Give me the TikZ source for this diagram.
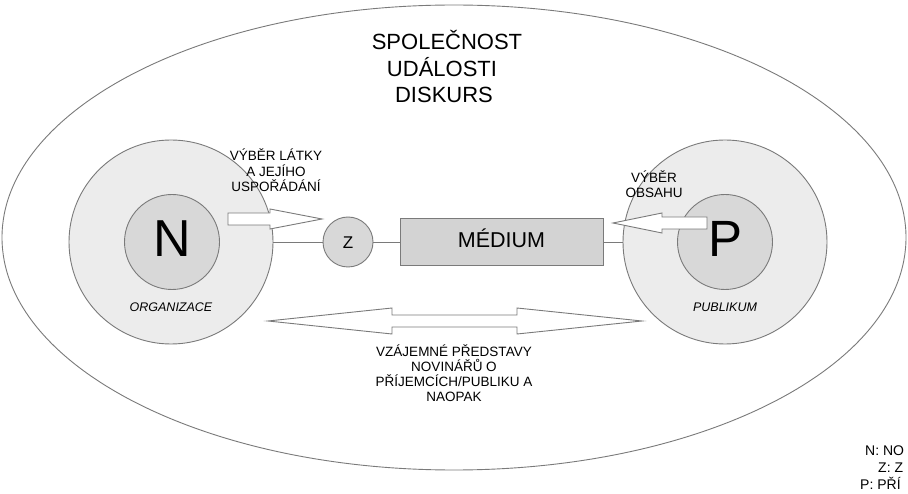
\documentclass[tikz,border=0pt]{standalone}
\usepackage{fontspec}
\setmainfont{Liberation Sans}
\definecolor{edgegray}{HTML}{7A7A7A}
\definecolor{outerfill}{HTML}{ECECEC}
\definecolor{innerfill}{HTML}{D8D8D8}
\definecolor{boxfill}{HTML}{D3D3D3}
\begin{document}
\begin{tikzpicture}[x=1pt,y=-1pt,
  thinline/.style={draw=edgegray,line width=0.9pt},
  outercirc/.style={circle,thinline,fill=outerfill,minimum size=204pt,inner sep=0pt},
  innercirc/.style={circle,thinline,fill=innerfill,minimum size=95pt,inner sep=0pt},
  zcirc/.style={circle,thinline,fill=innerfill,minimum size=50pt,inner sep=0pt},
  mediabox/.style={rectangle,thinline,fill=boxfill,minimum width=203pt,minimum height=47pt,inner sep=0pt},
  blockarrow/.style={draw=edgegray,line width=0.9pt,fill=white,line join=miter},
  lbl/.style={anchor=base,inner sep=0pt,font=\fontsize{13.5}{15}\selectfont},
  biglbl/.style={anchor=base,inner sep=0pt,font=\fontsize{22}{26}\selectfont},
  leg/.style={anchor=base west,inner sep=0pt,font=\fontsize{14}{16}\selectfont}]
\useasboundingbox (0,0) rectangle (908,494);
\clip (0,0) rectangle (908,494);
\fill[white] (0,0) rectangle (908,494);
% society ellipse
\draw[thinline] (454,237.5) ellipse [x radius=452pt, y radius=232.5pt];
% title
\node[biglbl] (t1) at (447,50) {SPOLEČNOST};
\node[biglbl] (t2) at (442,77) {UDÁLOSTI};
\node[biglbl] (t3) at (444,103) {DISKURS};
% left: organization
\node[outercirc] (No) at (171,242) {};
\node[innercirc] (Ni) at (172,242) {};
\node[anchor=base,inner sep=0pt,font=\fontsize{52}{56}\selectfont] (Nt) at (172,257) {N};
\node[lbl,font=\itshape\fontsize{12.5}{15}\selectfont] (org) at (171,312) {ORGANIZACE};
% right: public
\node[outercirc] (Po) at (725,242) {};
\node[innercirc] (Pi) at (725,242) {};
\node[anchor=base,inner sep=0pt,font=\fontsize{51}{56}\selectfont] (Pt) at (726,257) {P};
\node[lbl,font=\itshape\fontsize{12.5}{15}\selectfont] (pub) at (725,312) {PUBLIKUM};
% Z and medium
\node[zcirc] (Z) at (348,242) {};
\node[anchor=base,inner sep=0pt,font=\fontsize{17}{20}\selectfont] (Zt) at (348,249) {Z};
\node[mediabox] (M) at (501.5,242) {};
\node[anchor=base,inner sep=0pt,font=\fontsize{21.5}{24}\selectfont] (Mt) at (501.5,248) {MÉDIUM};
% connectors
\draw[thinline] (No) -- (Z);
\draw[thinline] (Z) -- (M);
\draw[thinline] (M) -- (Po);
% block arrows
\draw[blockarrow] (228,213) -- (270,213) -- (270,209) -- (322,219) -- (270,229) -- (270,225) -- (228,225) -- cycle;
\draw[blockarrow] (707,217) -- (662,217) -- (662,213) -- (613,223) -- (662,233) -- (662,229) -- (707,229) -- cycle;
\draw[blockarrow] (268,321) -- (392,308) -- (392,315) -- (517,315) -- (517,308) -- (642,321) -- (517,334) -- (517,327) -- (392,327) -- (392,334) -- cycle;
% arrow labels
\node[lbl] (a1) at (276,161) {VÝBĚR LÁTKY};
\node[lbl] (a2) at (276,177) {A JEJÍHO};
\node[lbl] (a3) at (276,192) {USPOŘÁDÁNÍ};
\node[lbl] (b1) at (654,183) {VÝBĚR};
\node[lbl] (b2) at (654,198) {OBSAHU};
\node[lbl] (c1) at (454,357) {VZÁJEMNÉ PŘEDSTAVY};
\node[lbl] (c2) at (454,372) {NOVINÁŘŮ O};
\node[lbl] (c3) at (454,387) {PŘÍJEMCÍCH/PUBLIKU A};
\node[lbl] (c4) at (454,401) {NAOPAK};
% legend
\node[leg] (l1) at (865,455) {N: NO};
\node[leg] (l2) at (878,472) {Z: Z};
\node[leg] (l3) at (860,489) {P: PŘÍ};
\end{tikzpicture}
\end{document}
